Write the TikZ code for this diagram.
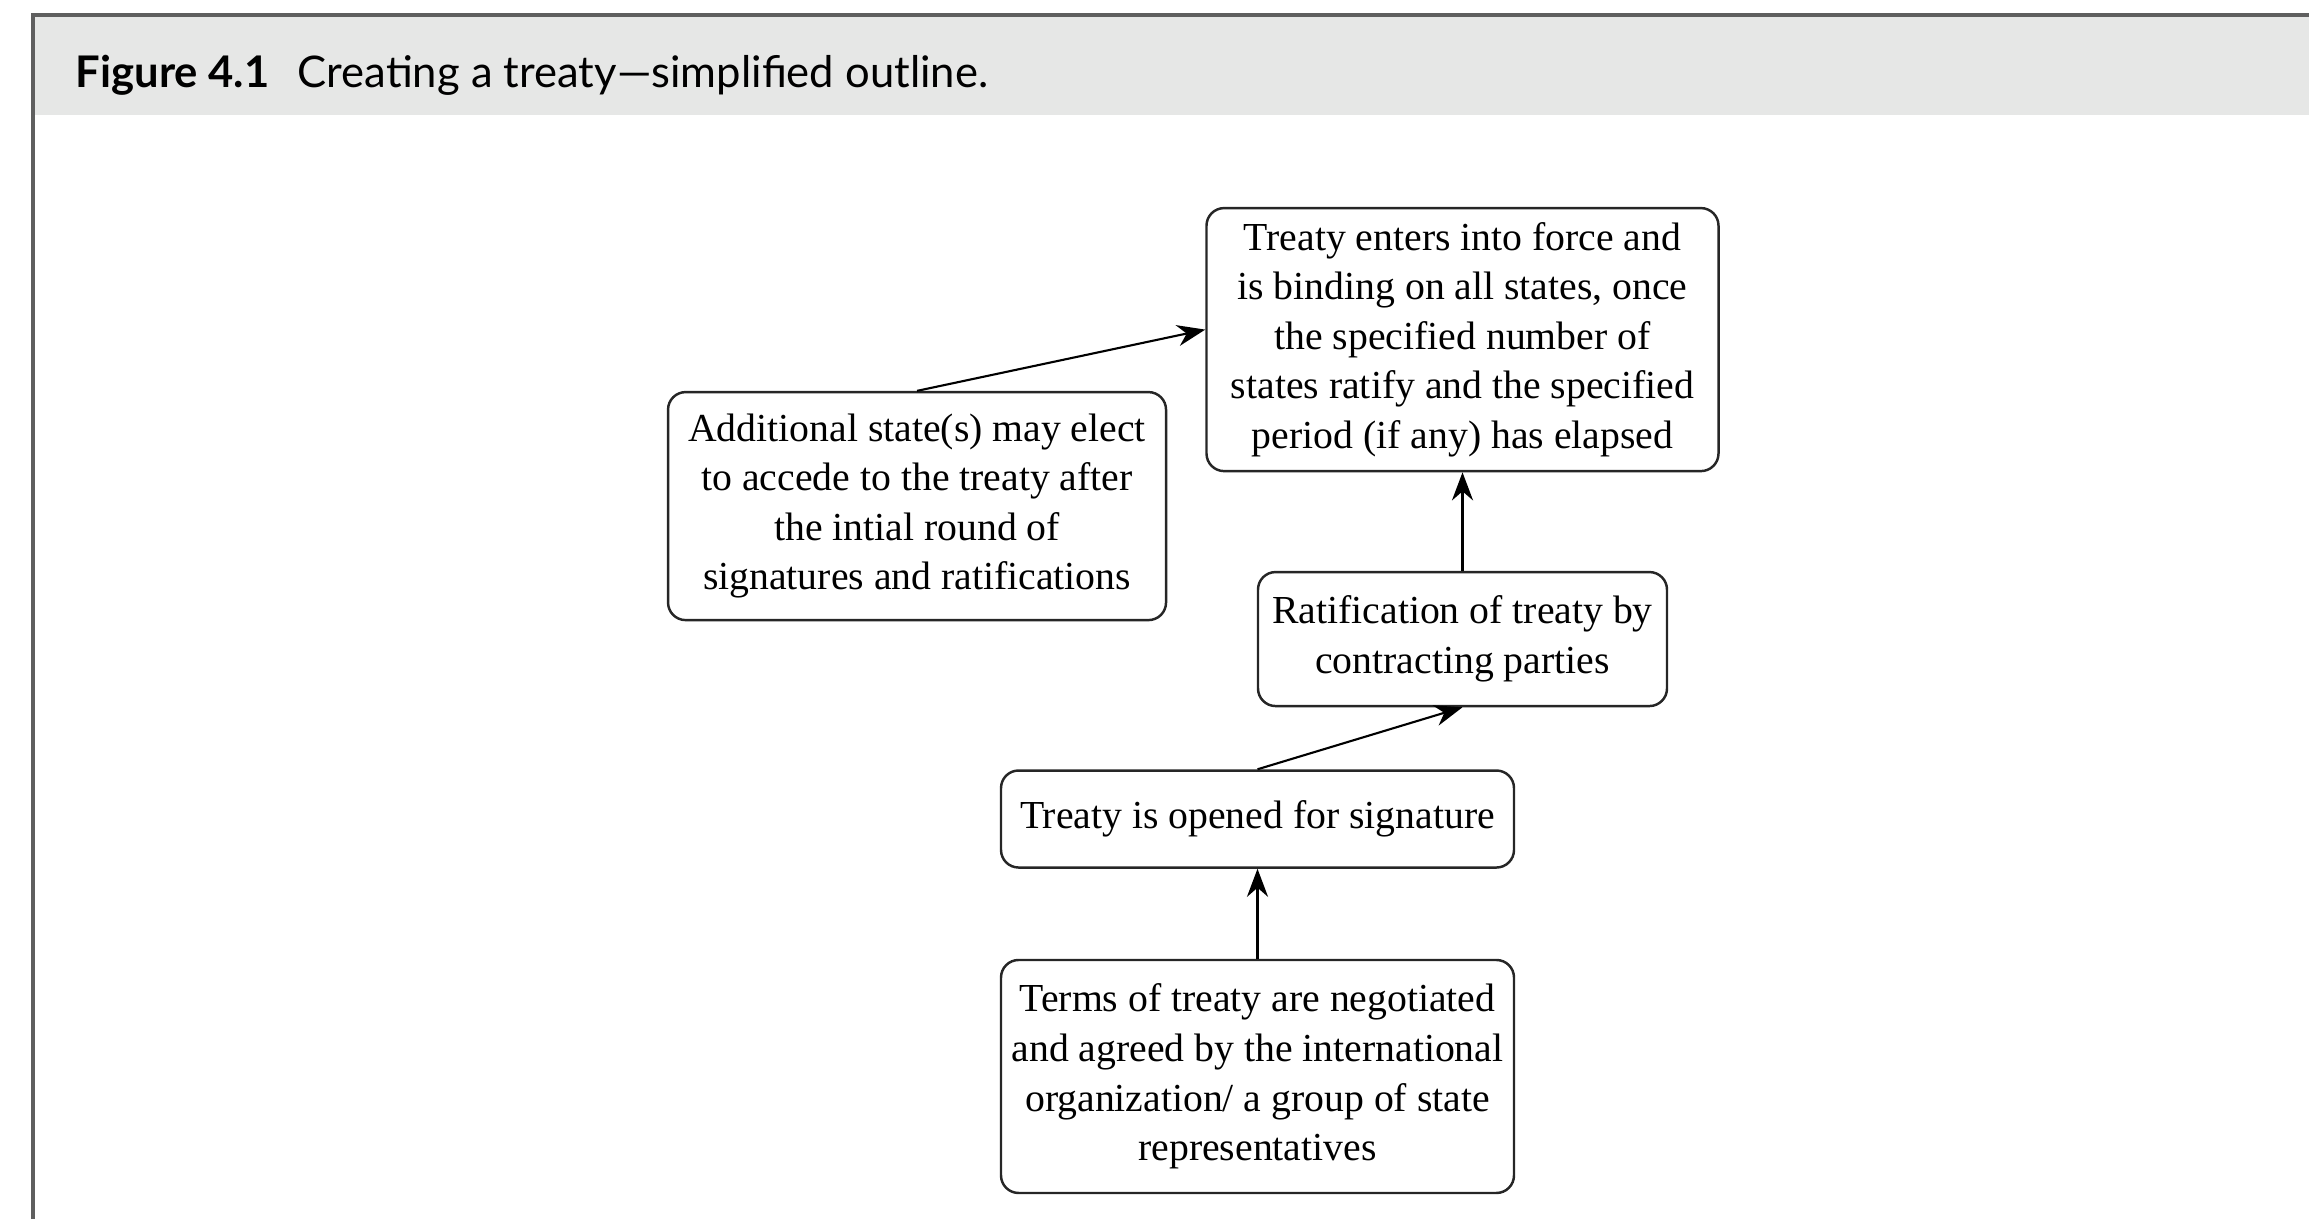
\documentclass[tikz,border=0pt]{standalone}
\usepackage{fontspec}
\setmainfont{Liberation Serif}
\newfontfamily\titlefont{Lato}
\usepackage{tikz}
\usetikzlibrary{arrows.meta,positioning}
\definecolor{headgray}{RGB}{230,231,230}
\definecolor{framegray}{RGB}{95,95,95}

\begin{document}
\begin{tikzpicture}[
  stage/.style={draw=black!85, line width=0.7pt, rounded corners=5pt, align=center, inner sep=2pt, font=\fontsize{11.3}{14.1}\selectfont},
  arr/.style={-{Stealth[length=8pt,width=6pt]}, line width=0.6pt}
]
  \useasboundingbox (0,0) rectangle (23.09,12.19);

  % Header band and frame
  \fill[headgray] (0.33,11.04) rectangle (23.09,12.04);
  \draw[framegray, line width=1.1pt] (0.33,0) -- (0.33,12.04) -- (23.09,12.04);
  \node[anchor=base west, inner sep=0pt, font=\titlefont\fontsize{12.4}{15}\selectfont] (title) at (0.75,11.31) {{\bfseries Figure 4.1}\hspace{0.65em}Creating a treaty—simplified outline.};

  % Stages, bottom up
  \node[stage, minimum width=5.13cm, minimum height=2.33cm] (terms) at (12.575,1.425) {Terms of treaty are negotiated\\and agreed by the international\\organization/ a group of state\\representatives};
  \node[stage, minimum width=5.13cm, minimum height=0.97cm, above=0.9cm of terms] (open) {Treaty is opened for signature};
  \node[stage, minimum width=4.09cm, minimum height=1.34cm, above=0.62cm of open, xshift=2.05cm] (ratify) {Ratification of treaty by\\contracting parties};
  \node[stage, minimum width=5.12cm, minimum height=2.63cm, above=0.985cm of ratify] (force) {Treaty enters into force and\\is binding on all states, once\\the specified number of\\states ratify and the specified\\period (if any) has elapsed};
  \node[stage, minimum width=4.98cm, minimum height=2.28cm, left=0.38cm of force, yshift=-1.665cm] (accede) {Additional state(s) may elect\\to accede to the treaty after\\the intial round of\\signatures and ratifications};

  % Connectors
  \draw[arr] (terms) -- (open);
  \draw[arr] (open.north) -- (ratify.south);
  \draw[arr] (ratify) -- (force);
  \draw[arr] (accede.north) -- ([yshift=1mm]force.west);
\end{tikzpicture}
\end{document}
